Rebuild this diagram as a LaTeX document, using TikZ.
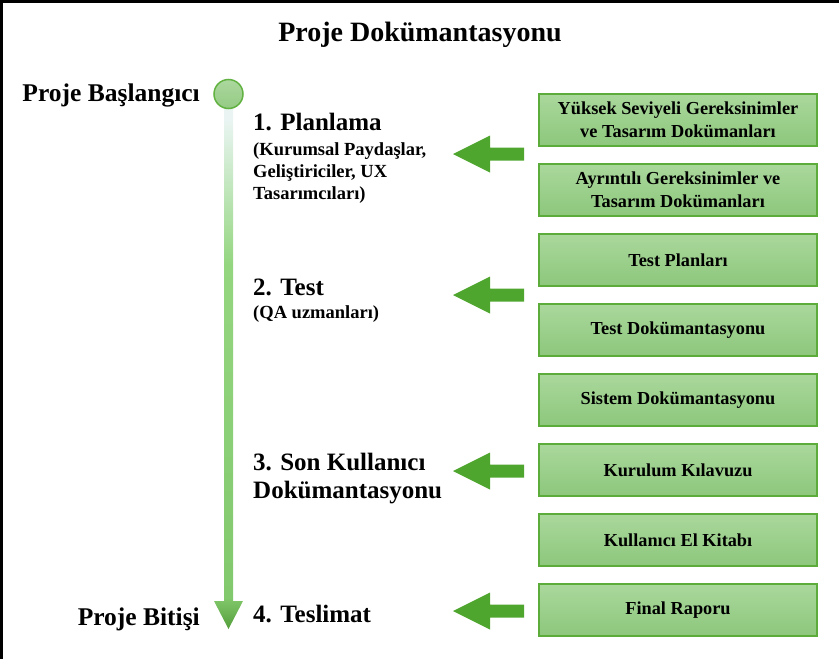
\documentclass[tikz,border=0pt]{standalone}
\usepackage{fontspec}
\setmainfont{Liberation Serif}
\definecolor{boxtop}{RGB}{170,216,156}
\definecolor{boxbot}{RGB}{141,199,124}
\definecolor{boxline}{RGB}{92,172,60}
\definecolor{arrowg}{RGB}{78,166,46}
\definecolor{tlA}{RGB}{234,245,243}
\definecolor{tlB}{RGB}{148,214,128}
\definecolor{tlC}{RGB}{130,200,108}
\definecolor{tlD}{RGB}{84,158,58}
\definecolor{circtop}{RGB}{172,216,158}
\definecolor{circbot}{RGB}{148,202,132}
\definecolor{circline}{RGB}{98,178,66}
\pgfdeclareverticalshading{tlshade}{100bp}{color(0bp)=(tlD); color(25bp)=(tlD); color(28bp)=(tlC); color(60bp)=(tlB); color(74bp)=(tlA); color(100bp)=(tlA)}
\begin{document}
\begin{tikzpicture}[x=1pt,y=-1pt,
  docbox/.style={draw=boxline, line width=1.8pt, top color=boxtop, bottom color=boxbot,
    minimum width=278pt, minimum height=52pt, inner sep=0pt, align=center,
    font=\fontsize{18.3}{23.5}\selectfont\bfseries},
  biglbl/.style={anchor=base west, inner sep=0pt, font=\fontsize{25}{30}\selectfont\bfseries},
  sidelbl/.style={anchor=base east, inner sep=0pt, font=\fontsize{25.5}{30}\selectfont\bfseries},
  sublbl/.style={anchor=base west, inner sep=0pt, font=\fontsize{18.5}{22}\selectfont\bfseries},
  blockarrow/.style={fill=arrowg, draw=none}
]
\useasboundingbox (0,0) rectangle (839,659);
% frame (left and top)
\draw[line width=3pt, black] (1.5,659) -- (1.5,1.5) -- (839,1.5);

% title
\node[anchor=base, inner sep=0pt, font=\fontsize{28}{33}\selectfont\bfseries] (title) at (420,41) {Proje Dokümantasyonu};

% timeline
\path[shading=tlshade] (224,108) -- (233,108) -- (233,601) -- (243,601) -- (228.5,629) -- (214,601) -- (224,601) -- cycle;
\node[circle, draw=circline, line width=1.5pt, top color=circtop, bottom color=circbot, minimum size=29pt, inner sep=0pt] (start) at (228.5,94) {};

\node[sidelbl] (begin) at (200,101) {Proje Başlangıcı};
\node[sidelbl] (end) at (200,625) {Proje Bitişi};

% phase labels
\node[biglbl] (ph1) at (253,130) {1. Planlama};
\node[sublbl] (ph1a) at (253,155) {(Kurumsal Paydaşlar,};
\node[sublbl] (ph1b) at (253,177) {Geliştiriciler, UX};
\node[sublbl] (ph1c) at (253,199) {Tasarımcıları)};

\node[biglbl] (ph2) at (253,295) {2. Test};
\node[sublbl] (ph2a) at (253,318) {(QA uzmanları)};

\node[biglbl] (ph3) at (253,470) {3. Son Kullanıcı};
\node[biglbl] (ph3b) at (253,498) {Dokümantasyonu};

\node[biglbl] (ph4) at (253,622) {4. Teslimat};

% document boxes
\node[docbox] (b1) at (678,120) {Yüksek Seviyeli Gereksinimler\\ve Tasarım Dokümanları};
\node[docbox] (b2) at (678,190) {Ayrıntılı Gereksinimler ve\\Tasarım Dokümanları};
\node[docbox] (b3) at (678,260) {Test Planları};
\node[docbox] (b4) at (678,330) {Test Dokümantasyonu};
\node[docbox] (b5) at (678,400) {Sistem Dokümantasyonu};
\node[docbox] (b6) at (678,470) {Kurulum Kılavuzu};
\node[docbox] (b7) at (678,540) {Kullanıcı El Kitabı};
\node[docbox] (b8) at (678,610) {Final Raporu};

% block arrows
\foreach \c in {154,295,471,611}{
  \fill[blockarrow] (453,\c) -- (490,\c-18.5) -- (490,\c-6.5) -- (524,\c-6.5)
     -- (524,\c+6.5) -- (490,\c+6.5) -- (490,\c+18.5) -- cycle;
}
\end{tikzpicture}
\end{document}
